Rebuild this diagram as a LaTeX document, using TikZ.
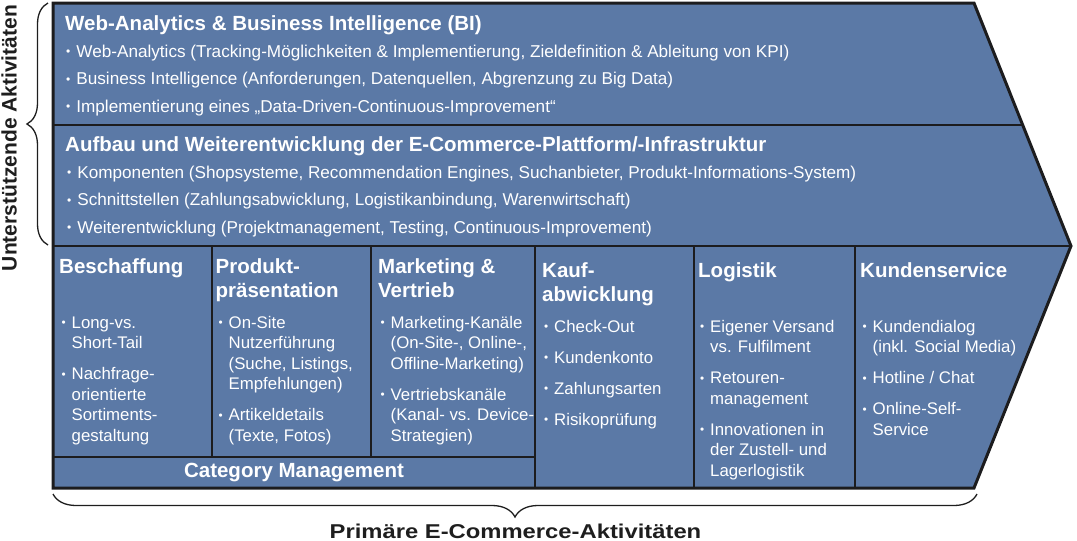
\documentclass[tikz,border=0pt]{standalone}
\usepackage{fontspec}
\setmainfont{Liberation Sans}
\usepackage{graphicx}
\usetikzlibrary{positioning,decorations.pathreplacing}

\definecolor{kettenblau}{RGB}{91,121,166}
\definecolor{kettenlinie}{RGB}{28,28,30}
\definecolor{beschriftung}{RGB}{30,30,30}

% small bullet and two helpers for stacked lines
\newcommand{\kdot}{\raisebox{0.08em}{\scalebox{0.7}{•}}}
\newcommand{\kliste}[1]{\begin{tabular}[t]{@{}l@{\hspace{0.35em}}l@{}}#1\end{tabular}}
\newcommand{\kzeilen}[1]{\begin{tabular}[t]{@{}l@{}}#1\end{tabular}}

\begin{document}
\begin{tikzpicture}[x=1pt,y=-1pt,
  titel/.style={anchor=base west,inner sep=0pt,text=white,font=\fontsize{20.5}{24}\selectfont\bfseries},
  liste/.style={anchor=base west,inner sep=0pt,text=white,font=\fontsize{16.8}{20.5}\selectfont},
  oben/.style={liste,font=\fontsize{17.15}{27.5}\selectfont},
  seite/.style={anchor=base,inner sep=0pt,text=beschriftung,font=\fontsize{21}{24}\selectfont\bfseries},
  trenner/.style={draw=kettenlinie,line width=2pt},
  klammer/.style={draw=beschriftung,line width=1.3pt,decorate,decoration={brace,amplitude=21pt}}]
  \useasboundingbox (0,0) rectangle (1077,541);

  % Value chain outline
  \coordinate (ol) at (53,3);
  \coordinate (or) at (974,3);
  \coordinate (sp) at (1071,246);
  \coordinate (ur) at (974,488);
  \coordinate (ul) at (53,488);
  \fill[kettenblau] (ol) -- (or) -- (sp) -- (ur) -- (ul) -- cycle;

  % Dividers
  \draw[trenner] (53,125) -- (1022.7,125);
  \draw[trenner] (53,246) -- (sp);
  \draw[trenner] (212,246) -- (212,457);
  \draw[trenner] (371,246) -- (371,457);
  \draw[trenner] (535,246) -- (535,488);
  \draw[trenner] (694,246) -- (694,488);
  \draw[trenner] (855,246) -- (855,488);
  \draw[trenner] (53,457) -- (535,457);
  \draw[draw=kettenlinie,line width=3pt] (ol) -- (or) -- (sp) -- (ur) -- (ul) -- cycle;

  % Support activity 1
  \node[titel] (s1) at (65,30) {Web-Analytics \& Business Intelligence (BI)};
  \node[oben] (s1l) at (66,57) {\kliste{\kdot & Web-Analytics (Tracking-Möglichkeiten \& Implementierung, Zieldefinition \& Ableitung von KPI)\\
    \kdot & Business Intelligence (Anforderungen, Datenquellen, Abgrenzung zu Big Data)\\
    \kdot & Implementierung eines „Data-Driven-Continuous-Improvement“}};

  % Support activity 2
  \node[titel] (s2) at (65,151) {Aufbau und Weiterentwicklung der E-Commerce-Plattform/-Infrastruktur};
  \node[oben] (s2l) at (67,178) {\kliste{\kdot & Komponenten (Shopsysteme, Recommendation Engines, Suchanbieter, Produkt-Informations-System)\\
    \kdot & Schnittstellen (Zahlungsabwicklung, Logistikanbindung, Warenwirtschaft)\\
    \kdot & Weiterentwicklung (Projektmanagement, Testing, Continuous-Improvement)}};

  % Column 1: Beschaffung
  \node[titel] (k1) at (59,273) {Beschaffung};
  \node[liste] (k1l) at (61.5,328) {\kliste{\kdot & Long-vs.\\ & Short-Tail\\[10.5pt]
    \kdot & Nachfrage-\\ & orientierte\\ & Sortiments-\\ & gestaltung}};

  % Column 2: Produktpraesentation
  \node[titel] (k2) at (215.5,273) {\kzeilen{Produkt-\\präsentation}};
  \node[liste] (k2l) at (218.5,328) {\kliste{\kdot & On-Site\\ & Nutzerführung\\ & (Suche, Listings,\\ & Empfehlungen)\\[10.5pt]
    \kdot & Artikeldetails\\ & (Texte, Fotos)}};

  % Column 3: Marketing
  \node[titel] (k3) at (378,273) {\kzeilen{Marketing \&\\Vertrieb}};
  \node[liste] (k3l) at (380.5,328) {\kliste{\kdot & Marketing-Kanäle\\ & (On-Site-, Online-,\\ & Offline-Marketing)\\[10.5pt]
    \kdot & Vertriebskanäle\\ & (Kanal- vs. Device-\\ & Strategien)}};

  % Column 4: Kaufabwicklung
  \node[titel] (k4) at (542,277) {\kzeilen{Kauf-\\abwicklung}};
  \node[liste] (k4l) at (544,332) {\kliste{\kdot & Check-Out\\[10.5pt]
    \kdot & Kundenkonto\\[10.5pt]
    \kdot & Zahlungsarten\\[10.5pt]
    \kdot & Risikoprüfung}};

  % Column 5: Logistik
  \node[titel] (k5) at (698,277) {Logistik};
  \node[liste] (k5l) at (700,332) {\kliste{\kdot & Eigener Versand\\ & vs. Fulfilment\\[10.5pt]
    \kdot & Retouren-\\ & management\\[10.5pt]
    \kdot & Innovationen in\\ & der Zustell- und\\ & Lagerlogistik}};

  % Column 6: Kundenservice
  \node[titel] (k6) at (860,277) {Kundenservice};
  \node[liste] (k6l) at (862.5,332) {\kliste{\kdot & Kundendialog\\ & (inkl. Social Media)\\[10.5pt]
    \kdot & Hotline / Chat\\[10.5pt]
    \kdot & Online-Self-\\ & Service}};

  % Category row
  \node[titel,anchor=base] (cm) at (294,477) {Category Management};

  % Braces and their labels
  \coordinate (kl1) at (48,245);
  \coordinate (kl2) at (48,3);
  \draw[klammer] (kl1) -- (kl2);
  \node[seite,rotate=90] (unt) at (16.5,138) {Unterstützende Aktivitäten};
  \coordinate (ku1) at (977,494);
  \coordinate (ku2) at (53,494);
  \draw[klammer,decoration={amplitude=23pt}] (ku1) -- (ku2);
  \node[seite,font=\fontsize{20}{24}\selectfont\bfseries] (prim) at (515.5,538) {\scalebox{1.19}[1]{Primäre E-Commerce-Aktivitäten}};
\end{tikzpicture}
\end{document}
